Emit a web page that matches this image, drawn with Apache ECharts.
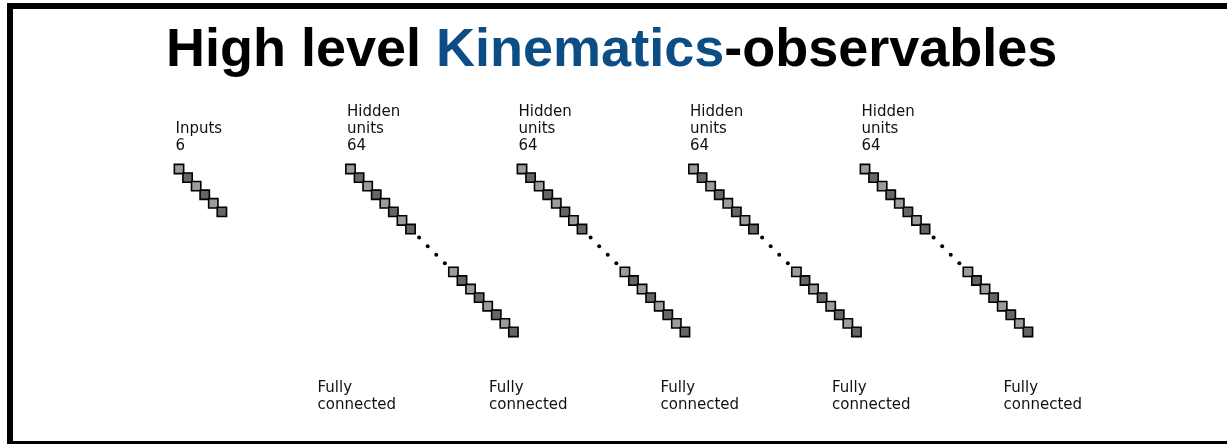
<!DOCTYPE html>
<html>
<head>
<meta charset="utf-8">
<script src="https://cdn.jsdelivr.net/npm/echarts@6/dist/echarts.min.js"></script>
<style>html,body{margin:0;padding:0;background:#fff}#c{width:1227px;height:444px}</style>
</head>
<body>
<div id="c"></div>
<script>
// ---- data ----
const titleParts = ['High level ', 'Kinematics', '-observables'];
const layerNames = ['Inputs', 'Hidden\nunits', 'Hidden\nunits', 'Hidden\nunits', 'Hidden\nunits'];
const layerUnits = [6, 64, 64, 64, 64];
const connectionLabels = ['Fully\nconnected', 'Fully\nconnected', 'Fully\nconnected', 'Fully\nconnected', 'Fully\nconnected'];
const headShown = 8;   // units drawn before the ellipsis
const dotsShown = 4;   // ellipsis dots
const tailShown = 8;   // units drawn after the ellipsis
const layerSpan = 20;  // diagonal steps per layer column

// ---- build marks ----
const squares = [];
const dots = [];
layerUnits.forEach((n, li) => {
  const base = li * layerSpan;
  if (n <= headShown + tailShown) {
    for (let k = 0; k < n; k++) squares.push([base + k, k, k % 2]);
  } else {
    for (let k = 0; k < headShown; k++) squares.push([base + k, k, k % 2]);
    for (let d = 0; d < dotsShown; d++) dots.push([base + headShown + d, headShown + d]);
    const start = headShown + dotsShown;
    for (let k = 0; k < tailShown; k++) squares.push([base + start + k, start + k, k % 2]);
  }
});

const step = 8.575;
const colX0 = 179, colY0 = 169;
const colSpacing = step * layerSpan;
const maxSteps = layerUnits.length * layerSpan;
const maxRows = headShown + dotsShown + tailShown - 1;

const labelFont = '15px "DejaVu Sans"';
const graphics = [
  { type: 'rect', shape: { x: 10, y: 6, width: 1400, height: 438 }, style: { fill: 'none', stroke: '#000', lineWidth: 6 }, silent: true }
];
layerNames.forEach((name, i) => {
  const txt = name + '\n' + layerUnits[i];
  const lines = txt.split('\n').length;
  graphics.push({
    type: 'text', left: 175.5 + colSpacing * i, top: 104 + (3 - lines) * 17,
    style: { text: txt, font: labelFont, fill: '#111', lineHeight: 17 }
  });
});
connectionLabels.forEach((t, i) => {
  graphics.push({
    type: 'text', left: 317.5 + colSpacing * i, top: 379.5,
    style: { text: t, font: labelFont, fill: '#111', lineHeight: 17 }
  });
});

const chart = echarts.init(document.getElementById('c'));
chart.setOption({
  animation: false,
  backgroundColor: '#fff',
  title: {
    left: 166, top: 21, padding: 0,
    text: '{a|' + titleParts[0] + '}{b|' + titleParts[1] + '}{a|' + titleParts[2] + '}',
    textStyle: {
      rich: {
        a: { fontFamily: 'Liberation Sans', fontWeight: 'bold', fontSize: 54, color: '#000', lineHeight: 60 },
        b: { fontFamily: 'Liberation Sans', fontWeight: 'bold', fontSize: 54, color: '#0c4d86', lineHeight: 60 }
      }
    }
  },
  grid: { left: colX0, top: colY0, width: step * maxSteps, height: step * maxRows },
  xAxis: { type: 'value', min: 0, max: maxSteps, show: false },
  yAxis: { type: 'value', min: 0, max: maxRows, inverse: true, show: false },
  graphic: graphics,
  series: [
    {
      type: 'scatter', data: squares, symbol: 'rect', symbolSize: 9.3, clip: false, silent: true,
      itemStyle: {
        color: p => p.data[2] === 0 ? '#9c9c9c' : '#666666',
        borderColor: '#000', borderWidth: 1.6, opacity: 1
      }
    },
    {
      type: 'scatter', data: dots, symbol: 'circle', symbolSize: 4, clip: false, silent: true,
      itemStyle: { color: '#000', opacity: 1 }
    }
  ]
});
</script>
</body>
</html>
